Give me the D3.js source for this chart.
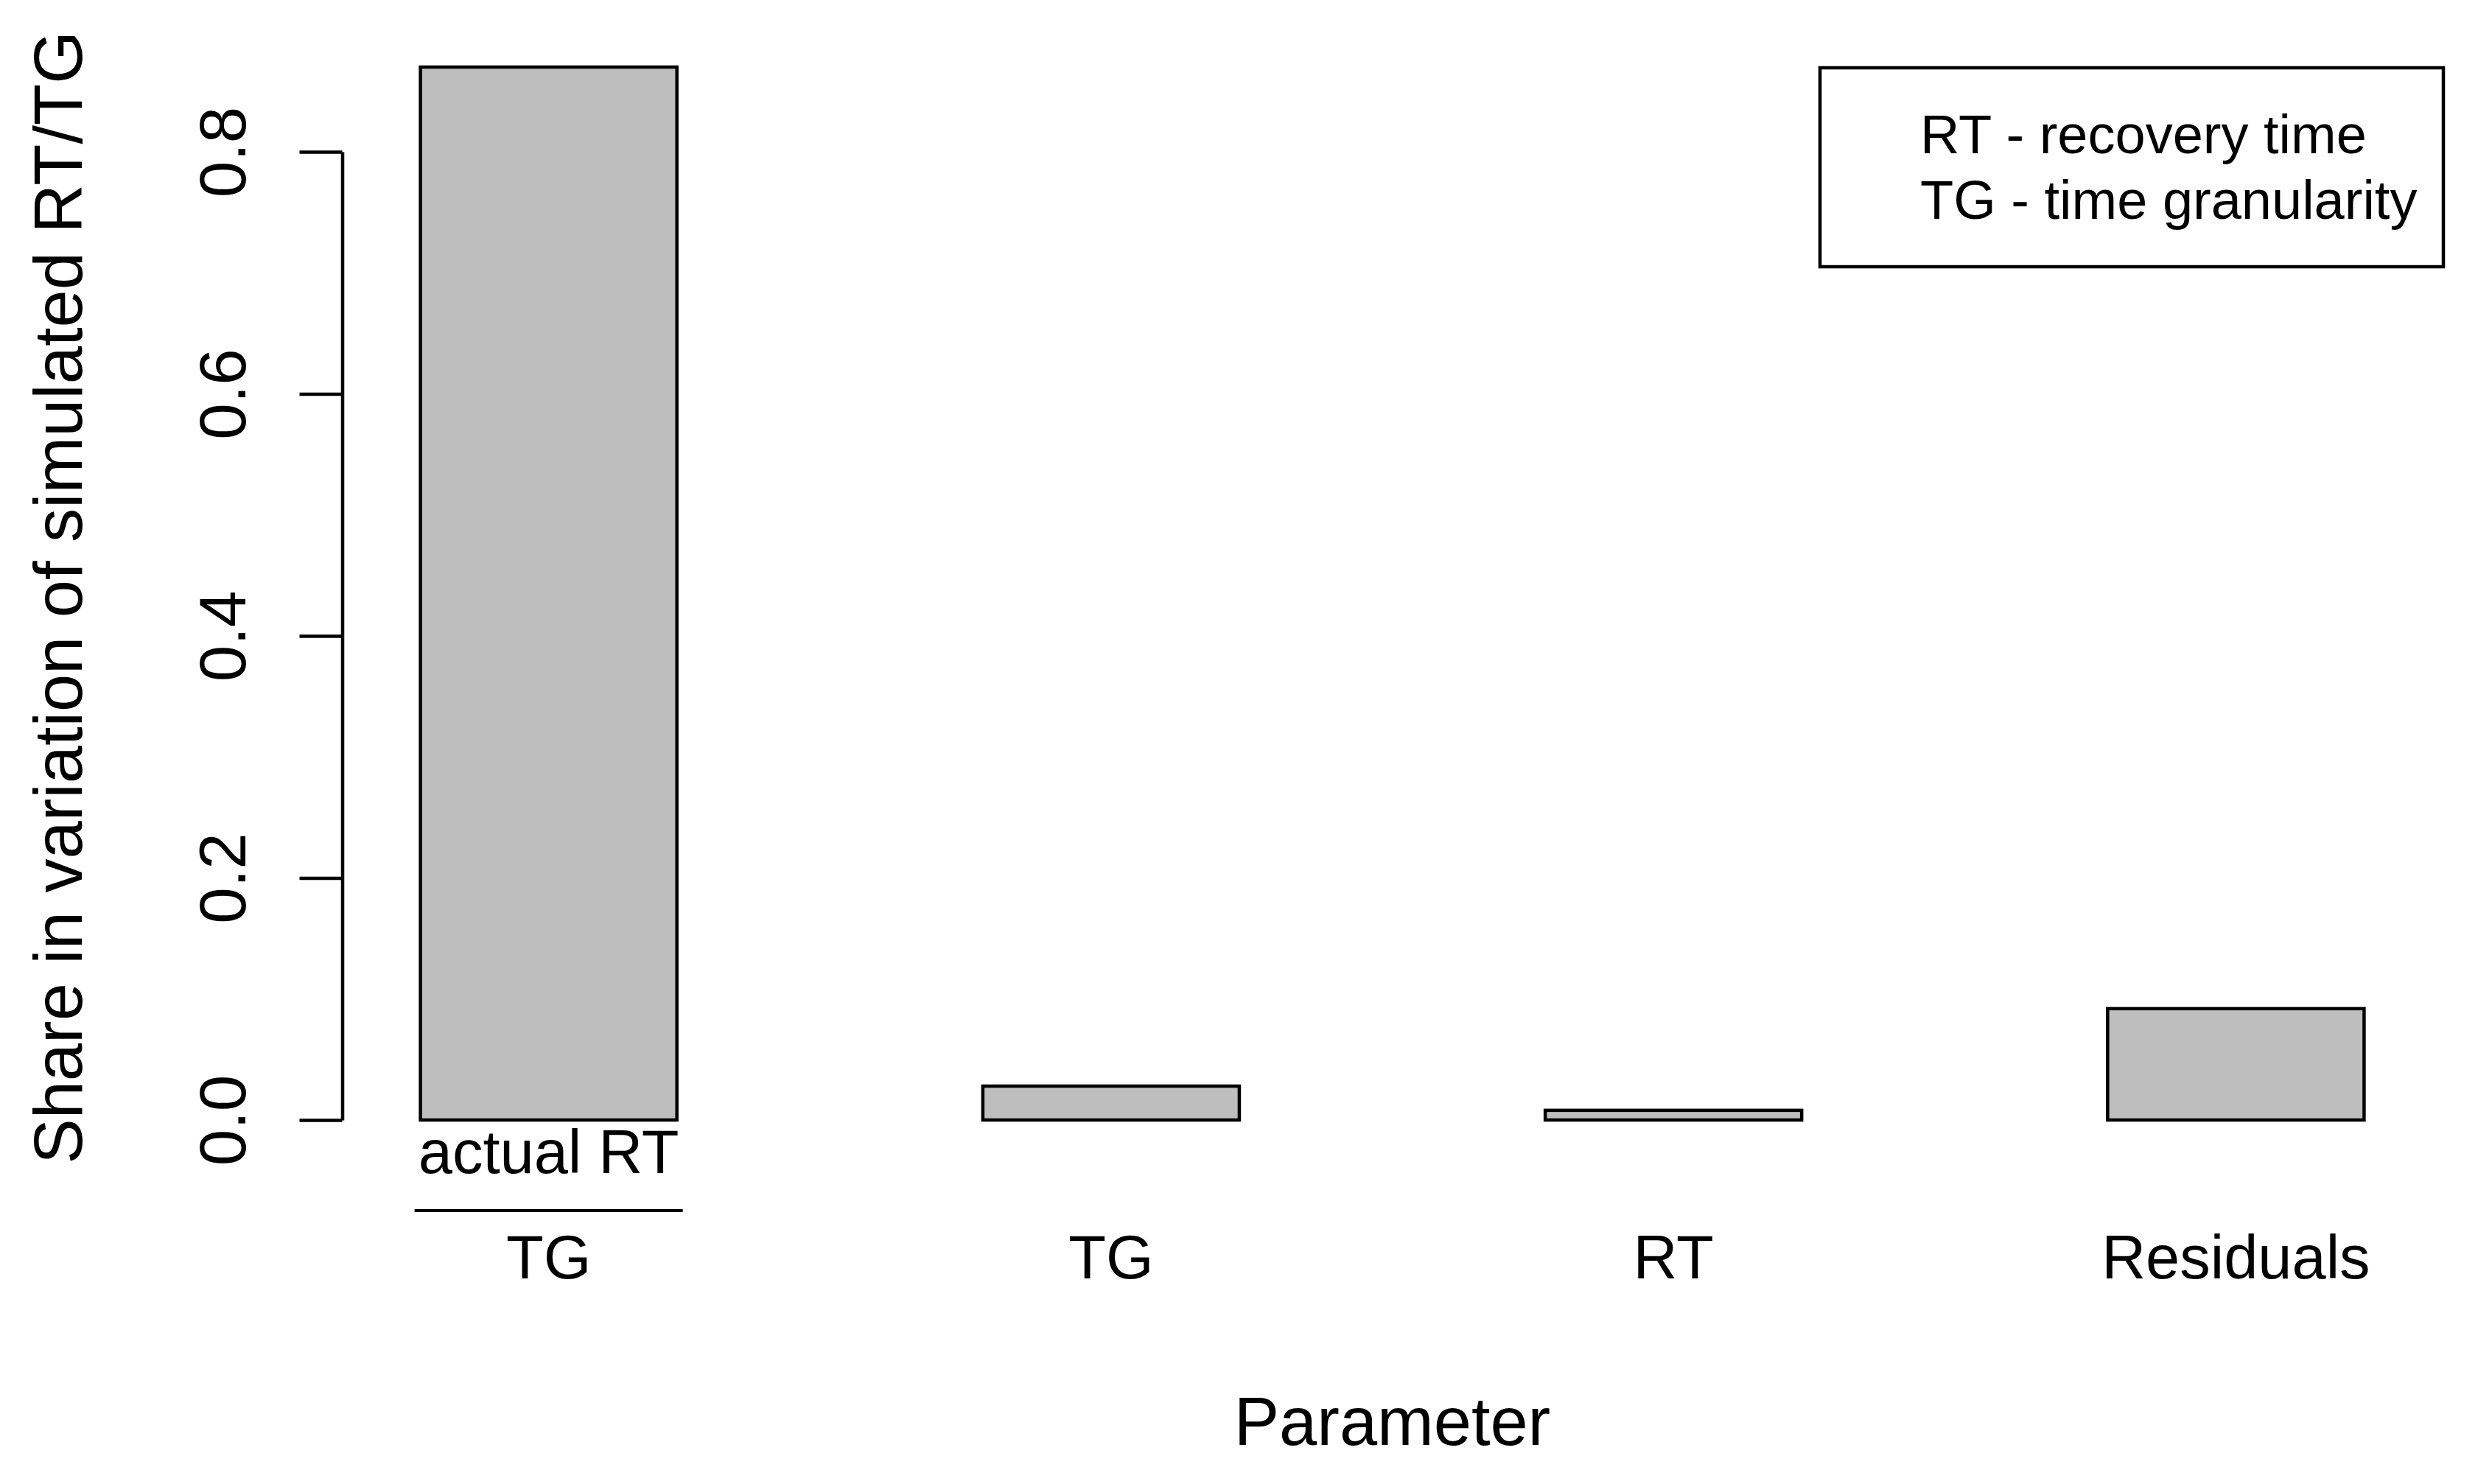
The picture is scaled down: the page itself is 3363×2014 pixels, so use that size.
<!DOCTYPE html>
<html>
<head>
<meta charset="utf-8">
<script src="https://cdn.jsdelivr.net/npm/d3@7"></script>
<style>
  html, body { margin: 0; padding: 0; background: #fff; }
  svg { display: block; font-family: "Liberation Sans", Arial, Helvetica, sans-serif; }
</style>
</head>
<body>
<div id="chart"></div>
<script>
// Data
const categories = ["actual RT / TG", "TG", "RT", "Residuals"];
const shares = [0.87, 0.028, 0.008, 0.092];
// first label is a fraction: numerator over denominator
const labelTop = ["actual RT", null, null, null];
const labelBottom = ["TG", "TG", "RT", "Residuals"];
const yTicks = [0, 0.2, 0.4, 0.6, 0.8];
const legendLines = ["RT - recovery time", "TG - time granularity"];

const width = 3363;
const height = 2014;

// plot region (R style)
const plotLeft = 464.5, plotRight = 3314.5;

const svg = d3.select("#chart")
  .append("svg")
  .attr("width", width)
  .attr("height", height);

// Scales
const x = d3.scaleBand()
  .domain(categories)
  .range([plotLeft, plotRight])
  .paddingInner(0.544)
  .paddingOuter(0.139);

const y = d3.scaleLinear()
  .domain([0, 0.8])
  .range([1520, 206]);

const data = categories.map((c, i) => ({ cat: c, value: shares[i], top: labelTop[i], bottom: labelBottom[i] }));

// Bars
svg.selectAll(".bar")
  .data(data)
  .join("rect")
  .attr("class", "bar")
  .attr("x", d => x(d.cat))
  .attr("y", d => y(d.value))
  .attr("width", x.bandwidth())
  .attr("height", d => y(0) - y(d.value))
  .attr("fill", "#bebebe")
  .attr("stroke", "#000")
  .attr("stroke-width", 4.5);

// Y axis
const leftAxis = d3.axisLeft(y)
  .tickValues(yTicks)
  .tickFormat(d3.format(".1f"))
  .tickSize(58)
  .tickSizeOuter(0);

const yAxisG = svg.append("g")
  .attr("transform", `translate(${plotLeft}, 0)`)
  .call(leftAxis);

yAxisG.select(".domain")
  .attr("stroke", "#000")
  .attr("stroke-width", 4.5);
yAxisG.selectAll(".tick line")
  .attr("stroke", "#000")
  .attr("stroke-width", 4.5);
yAxisG.selectAll(".tick text")
  .attr("x", 0)
  .attr("y", 0)
  .attr("dy", null)
  .attr("transform", `translate(${333 - plotLeft}, 0) rotate(-90)`)
  .attr("text-anchor", "middle")
  .attr("fill", "#000")
  .style("font-size", "89px");

// X labels
const xLabels = svg.append("g");
xLabels.selectAll(".xlab")
  .data(data)
  .join("text")
  .attr("class", "xlab")
  .attr("x", d => x(d.cat) + x.bandwidth() / 2)
  .attr("y", 1735)
  .attr("text-anchor", "middle")
  .style("font-size", "83px")
  .text(d => d.bottom);

const fracs = data.filter(d => d.top);
xLabels.selectAll(".xlab-top")
  .data(fracs)
  .join("text")
  .attr("class", "xlab-top")
  .attr("x", d => x(d.cat) + x.bandwidth() / 2)
  .attr("y", 1592)
  .attr("text-anchor", "middle")
  .style("font-size", "83px")
  .text(d => d.top);

xLabels.selectAll(".frac-line")
  .data(fracs)
  .join("line")
  .attr("class", "frac-line")
  .attr("x1", d => x(d.cat) + x.bandwidth() / 2 - 182)
  .attr("x2", d => x(d.cat) + x.bandwidth() / 2 + 182)
  .attr("y1", 1643)
  .attr("y2", 1643)
  .attr("stroke", "#000")
  .attr("stroke-width", 4);

// Axis titles
svg.append("text")
  .text("Parameter")
  .attr("x", (plotLeft + plotRight) / 2)
  .attr("y", 1961)
  .attr("text-anchor", "middle")
  .style("font-size", "92px");

svg.append("text")
  .text("Share in variation of simulated RT/TG")
  .attr("transform", `translate(111, 811) rotate(-90)`)
  .attr("text-anchor", "middle")
  .style("font-size", "92px");

// Legend
const legend = svg.append("g");
legend.append("rect")
  .attr("x", 2470)
  .attr("y", 92)
  .attr("width", 846)
  .attr("height", 270)
  .attr("fill", "none")
  .attr("stroke", "#000")
  .attr("stroke-width", 4.5);

legend.selectAll(".leg-text")
  .data(legendLines)
  .join("text")
  .attr("class", "leg-text")
  .attr("x", 2606)
  .attr("y", (d, i) => 208 + i * 89)
  .style("font-size", "74px")
  .text(d => d);
</script>
</body>
</html>
